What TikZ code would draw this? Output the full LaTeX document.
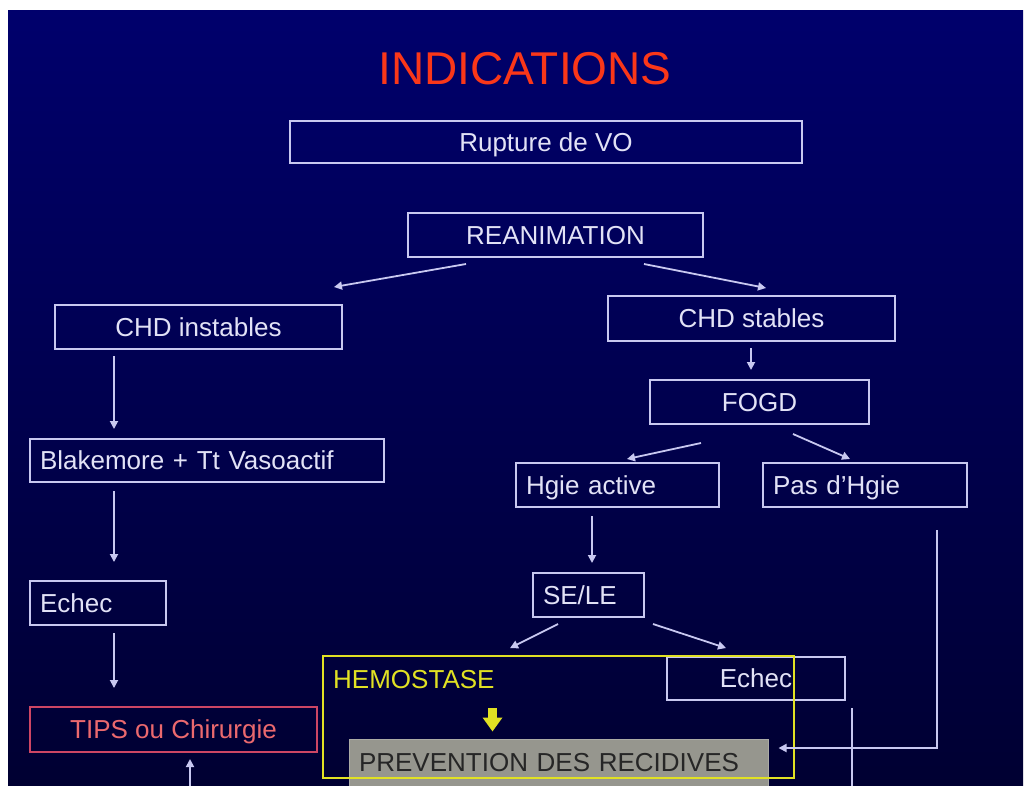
\documentclass[tikz,border=0pt]{standalone}
\usepackage{fontspec}
\setmainfont{Liberation Sans}
\usetikzlibrary{arrows.meta}

\definecolor{bgtop}{RGB}{0,0,108}
\definecolor{bgbot}{RGB}{0,0,50}
\definecolor{linec}{RGB}{200,200,240}
\definecolor{textc}{RGB}{226,226,246}
\definecolor{titlec}{RGB}{250,55,25}
\definecolor{tipsline}{RGB}{205,70,100}
\definecolor{tipstext}{RGB}{235,105,110}
\definecolor{hemoc}{RGB}{225,225,35}
\definecolor{prevfill}{RGB}{150,150,142}
\definecolor{prevtext}{RGB}{38,38,38}

\begin{document}
\begin{tikzpicture}[x=1pt,y=-1pt,
  every node/.style={font=\fontsize{26}{30}\selectfont, text=textc},
  box/.style={draw=linec, line width=2pt, inner sep=0pt,
    text height=18.6pt, text depth=0pt,
    minimum width=#1, minimum height=44pt},
  lbox/.style={draw=linec, line width=2pt, inner ysep=0pt, inner xsep=10pt,
    text width=#1, align=left,
    text height=18.6pt, text depth=0pt, minimum height=44pt},
  arr/.style={draw=linec, line width=1.8pt, -{Triangle[length=8pt,width=8pt]}},
  plain/.style={draw=linec, line width=1.8pt},
  yarr/.style={draw=hemoc, line width=9pt, -{Triangle[length=14pt,width=19pt]}}
]
% page and slide background
\useasboundingbox (0,0) rectangle (1024,785);
\fill[white] (0,0) rectangle (1024,785);
\shade[top color=bgtop, bottom color=bgbot] (8,10) rectangle (1023,785);

% title
\node[font=\fontsize{46}{50}\selectfont, text=titlec, anchor=base, inner sep=0pt]
  (title) at (525,84) {INDICATIONS};

% columns used by the vertical connectors
\coordinate (colL) at (114,0);
\coordinate (colS) at (751,0);
\coordinate (colM) at (592,0);
\coordinate (colR) at (937,0);
\coordinate (colE) at (852,0);
\coordinate (colY) at (492.5,0);
\coordinate (offT) at (190,792);
\coordinate (offE) at (852,792);

% boxes
\node[box=512pt, minimum height=42pt] (rupt) at (546,142) {Rupture de VO};
\node[box=295pt] (rean) at (555.5,235) {REANIMATION};
\node[box=287pt] (chdi) at (198.5,327) {CHD instables};
\node[box=287pt, minimum height=45pt] (chds) at (751.5,318.5) {CHD stables};
\node[box=219pt] (fogd) at (759.5,402) {FOGD};
\node[lbox=183pt] (hgie) at (617.5,485) {Hgie active};
\node[lbox=184pt] (pas) at (865,485) {Pas d'Hgie};
\node[lbox=91pt] (sele) at (588.5,595) {SE/LE};
\node[lbox=334pt, minimum height=43pt] (blake) at (207,460.5) {Blakemore + Tt Vasoactif};
\node[lbox=116pt] (echecA) at (98,603) {Echec};
\node[box=287pt, minimum height=45pt, draw=tipsline, text=tipstext] (tips) at (173.5,729.5) {TIPS ou Chirurgie};

% bottom group
\node[fill=prevfill, draw=prevfill!80!white, line width=1pt, inner ysep=0pt, inner xsep=10pt,
  text width=399pt, align=left, text height=18.6pt, text depth=0pt,
  minimum height=47pt, text=prevtext] (prev) at (558.5,762.5) {PREVENTION DES RECIDIVES};
\node[box=178pt, minimum height=43pt] (echecB) at (756,678.5) {Echec};
\node[draw=hemoc, line width=1.8pt, inner sep=0pt, minimum width=471pt, minimum height=122pt]
  (hemobox) at (558.5,717) {};
\node[anchor=base west, inner sep=0pt, text=hemoc] (hemo) at (333,688) {HEMOSTASE};
\draw[yarr, shorten <=20pt, shorten >=7pt] (hemo.south -| colY) -- (prev.north -| colY);

% left branch
\draw[arr, shorten <=6pt, shorten >=9pt] (chdi.south -| colL) -- (blake.north -| colL);
\draw[arr, shorten <=8pt, shorten >=18pt] (blake.south -| colL) -- (echecA.north -| colL);
\draw[arr, shorten <=7pt, shorten >=18pt] (echecA.south -| colL) -- (tips.north -| colL);
\draw[arr, shorten >=6pt] (offT) -- (offT |- tips.south);

% right branch
\draw[arr] ([xshift=59pt,yshift=-6pt]rean.south west) -- ([xshift=-9pt,yshift=17pt]chdi.north east);
\draw[arr] ([xshift=-60pt,yshift=-6pt]rean.south east) -- ([xshift=159pt,yshift=7pt]chds.north west);
\draw[arr, shorten <=6pt, shorten >=9pt] (chds.south -| colS) -- (fogd.north -| colS);
\draw[arr] ([xshift=52pt,yshift=-18pt]fogd.south west) -- ([xshift=112pt,yshift=3pt]hgie.north west);
\draw[arr] ([xshift=144pt,yshift=-9pt]fogd.south west) -- ([xshift=88pt,yshift=3pt]pas.north west);
\draw[arr, shorten <=8pt, shorten >=9pt] (hgie.south -| colM) -- (sele.north -| colM);
\draw[arr] ([xshift=26pt,yshift=-6pt]sele.south west) -- ([xshift=-48.5pt,yshift=7pt]hemobox.north);
\draw[arr] ([xshift=8pt,yshift=-6pt]sele.south east) -- ([xshift=60pt,yshift=8pt]echecB.north west);
\draw[arr, shorten <=22pt, shorten >=10pt] (pas.south -| colR) |- ([yshift=14.5pt]prev.east);
\draw[plain, shorten <=7pt] (echecB.south -| colE) -- (offE);
\end{tikzpicture}
\end{document}
